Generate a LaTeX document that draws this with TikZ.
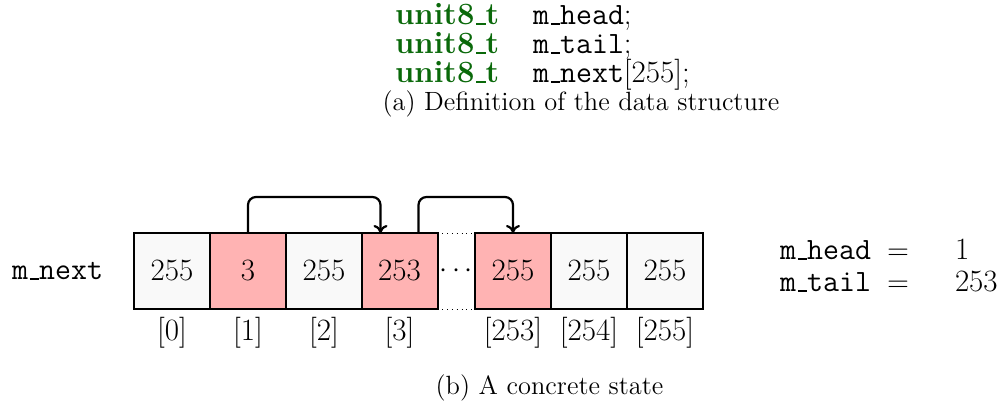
\documentclass[tikz,border=0pt]{standalone}
\usetikzlibrary{calc,arrows.meta}
\definecolor{codegreen}{RGB}{10,105,10}
\definecolor{cellgray}{RGB}{249,249,249}
\definecolor{cellpink}{RGB}{255,179,179}
\newcommand{\bodyfont}{\fontsize{15.5}{18}\selectfont}
\newcommand{\capfont}{\fontsize{13.2}{15.8}\selectfont}
\newcommand{\ubar}{\leavevmode\kern.06em\vbox{\hrule height 0.9pt width .3em}}
\begin{document}
\begin{tikzpicture}[x=0.5pt,y=-0.5pt,
  cellbox/.style={draw, line width=1pt, minimum width=38pt, minimum height=38pt,
    inner sep=0pt, outer sep=0pt, font=\bodyfont, fill=cellgray},
  hot/.style={fill=cellpink},
  txt/.style={inner sep=0pt, outer sep=0pt, font=\bodyfont},
  captxt/.style={inner sep=0pt, outer sep=0pt, font=\capfont},
  idx/.style={txt, anchor=base},
  link/.style={line width=1.1pt, rounded corners=4pt, -{To[length=4pt,width=7pt]}},
  kw/.style={txt, anchor=base west, text=codegreen, font=\bodyfont\bfseries},
  code/.style={txt, anchor=base west, font=\bodyfont}
]
\useasboundingbox (0,0) rectangle (1002,405);

% code block
\node[kw]   (k1) at (395,25) {unit8\ubar t};
\node[code] (v1) at (533,25) {\texttt{m\ubar head};};
\node[kw]   (k2) at (395,54) {unit8\ubar t};
\node[code] (v2) at (533,54) {\texttt{m\ubar tail};};
\node[kw]   (k3) at (395,83) {unit8\ubar t};
\node[code] (v3) at (533,83) {\texttt{m\ubar next}[255];};
\node[captxt, anchor=base] (capa) at (581,111) {(a) Definition of the data structure};

% array
\node[txt, anchor=base east] (lbl) at (103,280) {\texttt{m\ubar next}};
\node[cellbox]      (c0)   at (172,271) {255};
\node[cellbox, hot] (c1)   at (248,271) {3};
\node[cellbox]      (c2)   at (324,271) {255};
\node[cellbox, hot] (c3)   at (399.5,271) {253};
\node[cellbox, hot] (c253) at (513,271) {255};
\node[cellbox]      (c254) at (589,271) {255};
\node[cellbox]      (c255) at (665,271) {255};
\node[txt] (dots) at ($(c3.east)!0.5!(c253.west)$) {$\cdots$};
\draw[dotted] (c3.north east) -- (c253.north west);
\draw[dotted] (c3.south east) -- (c253.south west);

\foreach \c/\t in {c0/0, c1/1, c2/2, c3/3, c253/253, c254/254, c255/255}
  \node[idx] (i\c) at ($(\c.south)+(0,32)$) {[\t]};

% links
\coordinate (o1) at (c1.north);
\coordinate (n3) at ($(c3.north west)!0.25!(c3.north east)$);
\coordinate (o3) at ($(c3.north west)!0.75!(c3.north east)$);
\coordinate (n253) at (c253.north);
\draw[link] (o1) -- (o1 |- 0,197) -- (n3 |- 0,197) -- (n3);
\draw[link] (o3) -- (o3 |- 0,197) -- (n253 |- 0,197) -- (n253);

% state
\node[code] (h) at (780,260) {\texttt{m\ubar head}};
\node[txt, anchor=base] (he) at (898,260) {$=$};
\node[code] (hv) at (955,260) {1};
\node[code] (t) at (780,292) {\texttt{m\ubar tail}};
\node[txt, anchor=base] (te) at (898,292) {$=$};
\node[code] (tv) at (955,292) {253};

\node[captxt, anchor=base] (capb) at (549.5,395) {(b) A concrete state};
\end{tikzpicture}
\end{document}
